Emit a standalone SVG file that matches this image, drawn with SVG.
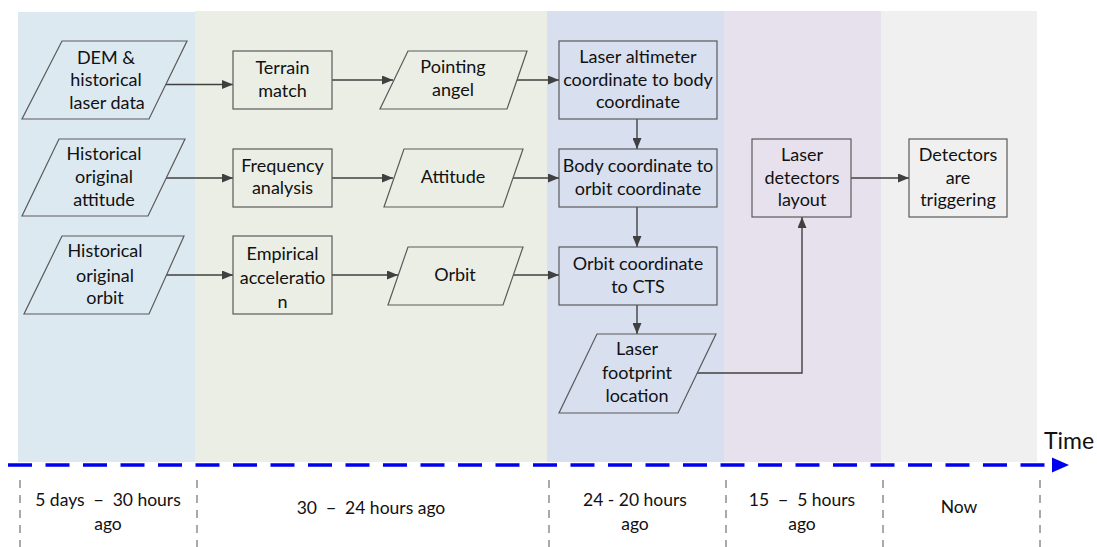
<svg xmlns="http://www.w3.org/2000/svg" width="1097" height="547" viewBox="0 0 1097 547">
<style>
text{font-family:Lato,"Liberation Sans",sans-serif;font-size:18px;fill:#111;text-anchor:middle}
.lbl{font-size:17.5px}
.node{stroke:#5a5a5a;stroke-width:1.2}
.b1{fill:#dde9f1}.b2{fill:#ebeee5}.b3{fill:#d8dfef}.b4{fill:#e7e1ee}.b5{fill:#f0f0f0}
.conn{fill:none;stroke:#404040;stroke-width:1.4;marker-end:url(#ah)}
.sep{stroke:#555;stroke-width:1;stroke-dasharray:8 7}
</style>
<defs>
<marker id="ah" markerUnits="userSpaceOnUse" markerWidth="11" markerHeight="9" refX="11" refY="4.5" orient="auto">
<path d="M0,0 L11,4.5 L0,9 z" fill="#404040"/>
</marker>
</defs>
<rect width="1097" height="547" fill="#fff"/>
<g id="bands">
<rect class="b1" x="18" y="12" width="177" height="450"/>
<rect class="b2" x="195" y="11" width="352" height="451"/>
<rect class="b3" x="547" y="11" width="177" height="451"/>
<rect class="b4" x="724" y="11" width="157" height="451"/>
<rect class="b5" x="881" y="11" width="156" height="451"/>
</g>
<g id="timeline">
<line x1="8" y1="465" x2="1052" y2="465" stroke="#0000ee" stroke-width="3.5" stroke-dasharray="24 13.5"/>
<path d="M1052,457.5 L1069,465 L1052,472.5 z" fill="#0000ee"/>
<text x="1069" y="449" style="font-size:23px">Time</text>
<line class="sep" x1="20" y1="480" x2="20" y2="547"/>
<line class="sep" x1="197" y1="480" x2="197" y2="547"/>
<line class="sep" x1="549" y1="480" x2="549" y2="547"/>
<line class="sep" x1="726" y1="480" x2="726" y2="547"/>
<line class="sep" x1="883" y1="480" x2="883" y2="547"/>
<line class="sep" x1="1040" y1="480" x2="1040" y2="547"/>
<text class="lbl" x="108" y="506" xml:space="preserve">5 days  −  30 hours</text>
<text class="lbl" x="108" y="530">ago</text>
<text class="lbl" x="371" y="514" xml:space="preserve">30  −  24 hours ago</text>
<text class="lbl" x="635" y="506">24 - 20 hours</text>
<text class="lbl" x="635" y="530">ago</text>
<text class="lbl" x="802" y="506" xml:space="preserve">15  −  5 hours</text>
<text class="lbl" x="802" y="530">ago</text>
<text class="lbl" x="959" y="513">Now</text>
</g>
<g id="connectors">
<line class="conn" x1="165" y1="84.5" x2="233" y2="84.5"/>
<line class="conn" x1="332" y1="80" x2="393" y2="80"/>
<line class="conn" x1="513" y1="80" x2="559" y2="80"/>
<line class="conn" x1="165" y1="178" x2="233" y2="178"/>
<line class="conn" x1="332" y1="178" x2="393" y2="178"/>
<line class="conn" x1="510" y1="178" x2="559" y2="178"/>
<line class="conn" x1="165" y1="275" x2="233" y2="275"/>
<line class="conn" x1="332" y1="275" x2="398" y2="275"/>
<line class="conn" x1="512" y1="275" x2="559" y2="275"/>
<line class="conn" x1="637" y1="119" x2="637" y2="149"/>
<line class="conn" x1="637" y1="207" x2="637" y2="247"/>
<line class="conn" x1="637" y1="305" x2="637" y2="334"/>
<polyline class="conn" points="697,373 802,373 802,217"/>
<line class="conn" x1="851" y1="178" x2="909" y2="178"/>
</g>
<g id="n-dem">
<polygon class="node b1" points="62,41 187,41 149,119 22,119"/>
<text x="106" y="64">DEM &amp;</text>
<text x="106" y="86">historical</text>
<text x="107" y="109">laser data</text>
</g>
<g id="n-hatt">
<polygon class="node b1" points="59,139 185,139 148,216 22,216"/>
<text x="104" y="160">Historical</text>
<text x="104" y="183">original</text>
<text x="104" y="206">attitude</text>
</g>
<g id="n-horb">
<polygon class="node b1" points="62,236 184,236 149,314 24,314"/>
<text x="105" y="257">Historical</text>
<text x="105" y="282">original</text>
<text x="105" y="304">orbit</text>
</g>
<g id="n-terrain">
<rect class="node b2" x="233" y="51" width="99" height="58"/>
<text x="282.5" y="74">Terrain</text>
<text x="282.5" y="97">match</text>
</g>
<g id="n-freq">
<rect class="node b2" x="233" y="149" width="99" height="58"/>
<text x="282.5" y="172">Frequency</text>
<text x="282.5" y="194">analysis</text>
</g>
<g id="n-emp">
<rect class="node b2" x="233" y="236" width="99" height="78"/>
<text x="282.5" y="260">Empirical</text>
<text x="282.5" y="284">acceleratio</text>
<text x="282.5" y="308">n</text>
</g>
<g id="n-point">
<polygon class="node b2" points="408,51 527,51 507,109 380,109"/>
<text x="453" y="73">Pointing</text>
<text x="453" y="96">angel</text>
</g>
<g id="n-att">
<polygon class="node b2" points="404,149 523,149 503,207 384,207"/>
<text x="453" y="183">Attitude</text>
</g>
<g id="n-orbit">
<polygon class="node b2" points="408,247 523,247 503,305 388,305"/>
<text x="455" y="281">Orbit</text>
</g>
<g id="n-lac">
<rect class="node b3" x="559" y="41" width="158" height="78"/>
<text x="638" y="63">Laser altimeter</text>
<text x="638" y="86">coordinate to body</text>
<text x="638" y="108">coordinate</text>
</g>
<g id="n-body">
<rect class="node b3" x="559" y="149" width="158" height="58"/>
<text x="638" y="172">Body coordinate to</text>
<text x="638" y="195">orbit coordinate</text>
</g>
<g id="n-cts">
<rect class="node b3" x="559" y="247" width="158" height="58"/>
<text x="638" y="270">Orbit coordinate</text>
<text x="638" y="293">to CTS</text>
</g>
<g id="n-foot">
<polygon class="node b3" points="597,334 716,334 678,413 559,413"/>
<text x="637" y="355">Laser</text>
<text x="637" y="379">footprint</text>
<text x="637" y="402">location</text>
</g>
<g id="n-layout">
<rect class="node b4" x="752" y="139" width="99" height="78"/>
<text x="802" y="161">Laser</text>
<text x="802" y="184">detectors</text>
<text x="802" y="206">layout</text>
</g>
<g id="n-trig">
<rect class="node b5" x="909" y="139" width="98" height="78"/>
<text x="958" y="161">Detectors</text>
<text x="958" y="184">are</text>
<text x="958" y="206">triggering</text>
</g>
</svg>
